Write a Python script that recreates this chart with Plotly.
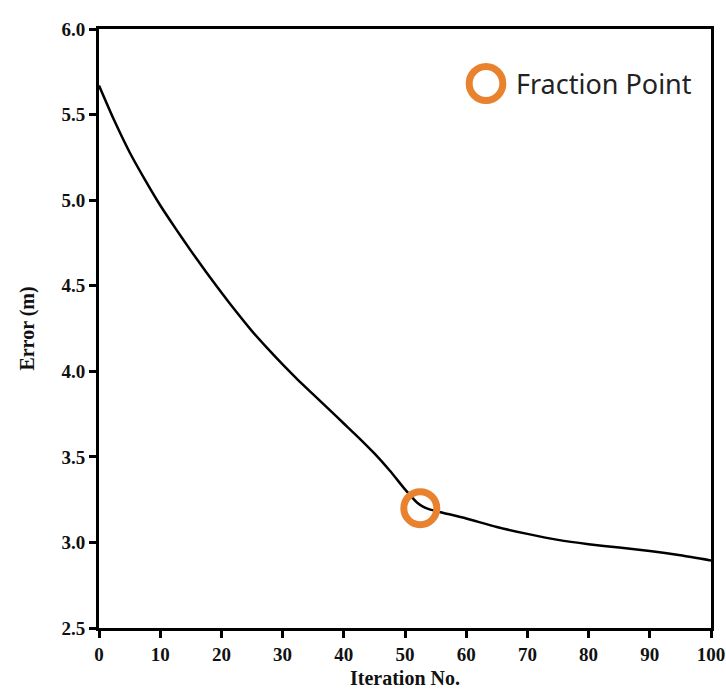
import plotly.graph_objects as go

iterations = [0, 2.5, 5, 7.5, 10, 12.5, 15, 17.5, 20, 22.5, 25, 27.5, 30, 32.5, 35, 37.5, 40,
              42.5, 45, 47.5, 50, 51, 52, 53, 54, 56, 60, 65, 70, 75, 80, 85, 90, 95, 100]
error_m = [5.67, 5.465, 5.28, 5.12, 4.97, 4.835, 4.705, 4.58, 4.46, 4.345, 4.235, 4.135, 4.04,
           3.95, 3.865, 3.78, 3.695, 3.61, 3.52, 3.42, 3.31, 3.27, 3.232, 3.208, 3.193, 3.175,
           3.14, 3.09, 3.05, 3.015, 2.99, 2.97, 2.95, 2.925, 2.895]
fraction_x = [52.5]
fraction_y = [3.20]
x_ticks = [0, 10, 20, 30, 40, 50, 60, 70, 80, 90, 100]
y_ticks = [2.5, 3.0, 3.5, 4.0, 4.5, 5.0, 5.5, 6.0]
legend_label = "Fraction Point"

orange = "#E8822E"
serif = "Liberation Serif"

fig = go.Figure()
fig.add_trace(go.Scatter(
    x=iterations, y=error_m, mode="lines",
    line=dict(color="black", width=2.5, shape="spline", smoothing=0.6),
    showlegend=False, hoverinfo="skip"))
fig.add_trace(go.Scatter(
    x=fraction_x, y=fraction_y, mode="markers",
    marker=dict(symbol="circle-open", size=33, color=orange, line=dict(width=7, color=orange)),
    name=legend_label, showlegend=False))

# legend-like key (circle + text)
cx, cy = (486 - 99) / 612, (628 - 83.5) / 599
fig.add_shape(type="circle", xref="paper", yref="paper",
              x0=cx - 0.0275, x1=cx + 0.0275, y0=cy - 0.0283, y1=cy + 0.0283,
              line=dict(color=orange, width=7), fillcolor="white")
fig.add_annotation(x=(514 - 99) / 612, y=cy, xref="paper", yref="paper", xanchor="left", yanchor="middle",
                   text=legend_label, showarrow=False,
                   font=dict(family="Noto Sans", size=27, color="#222222"))

axis_common = dict(
    showline=True, linecolor="black", linewidth=3, mirror=True,
    ticks="outside", ticklen=7, tickwidth=2.5, tickcolor="black",
    showgrid=False, zeroline=False, automargin=False, ticklabeloverflow="allow",
    tickfont=dict(family=serif, size=19, color="#111111", weight="bold"),
)

fig.update_xaxes(range=[0, 100], tickvals=x_ticks, ticktext=[str(v) for v in x_ticks],
                 title=dict(text="Iteration No.", font=dict(family=serif, size=20, color="#111111", weight="bold"),
                            standoff=8),
                 **axis_common)
fig.update_yaxes(range=[2.5, 6.0], tickvals=y_ticks, ticktext=[f"{v:.1f}" for v in y_ticks],
                 title=dict(text="Error (m)", font=dict(family=serif, size=20, color="#111111", weight="bold"),
                            standoff=22),
                 **axis_common)

fig.update_layout(
    width=726, height=695,
    margin=dict(l=99, r=15, t=29, b=67),
    plot_bgcolor="white", paper_bgcolor="white",
)

fig.write_html("out.html")
